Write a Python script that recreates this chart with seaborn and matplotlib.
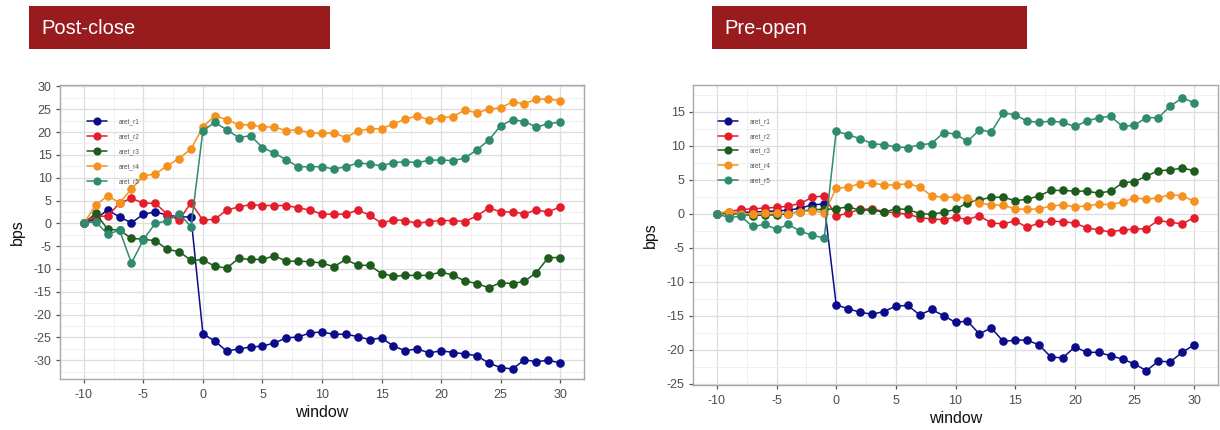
import numpy as np
import pandas as pd
import matplotlib
matplotlib.use("Agg")
import matplotlib.pyplot as plt
import seaborn as sns
from matplotlib.patches import Rectangle
from matplotlib.ticker import MultipleLocator

# ---------------- data ----------------
window = list(range(-10, 31))
series_names = ["aret_r1", "aret_r2", "aret_r3", "aret_r4", "aret_r5"]
panel_titles = ["Post-close", "Pre-open"]

post_r1 = [0, 1.0, 2.9, 1.4, 0.1, 2.0, 2.5, 1.8, 1.4, 1.4,
           -24.2, -25.8, -28.0, -27.5, -27.1, -26.9, -26.2, -25.1, -24.9, -24.0,
           -23.8, -24.3, -24.3, -24.8, -25.5, -25.1, -26.9, -27.9, -27.5, -28.4,
           -27.9, -28.3, -28.6, -29.0, -30.6, -31.6, -31.9, -29.9, -30.3, -30.0, -30.6]
post_r2 = [0, 1.5, 1.6, 4.4, 5.5, 4.4, 4.4, 2.0, 0.7, 4.5,
           0.7, 0.9, 2.9, 3.6, 4.1, 3.9, 3.9, 3.9, 3.4, 2.9,
           2.0, 2.0, 2.0, 2.9, 1.8, 0.0, 0.8, 0.6, 0.0, 0.4,
           0.6, 0.6, 0.4, 1.6, 3.4, 2.5, 2.5, 2.1, 2.9, 2.5, 3.6]
post_r3 = [0, 2.2, -1.3, -1.5, -3.3, -3.5, -3.8, -5.7, -6.2, -8.1,
           -8.0, -9.4, -9.8, -7.7, -7.9, -7.9, -7.1, -8.3, -8.3, -8.4,
           -8.7, -9.5, -7.9, -9.2, -9.2, -11.0, -11.6, -11.4, -11.4, -11.4,
           -10.6, -11.4, -12.6, -13.2, -14.1, -13.0, -13.2, -12.7, -10.8, -7.5, -7.5]
post_r4 = [0, 4.0, 6.0, 4.5, 7.5, 10.4, 10.8, 12.6, 14.2, 16.3,
           21.1, 23.6, 22.7, 21.6, 21.6, 21.1, 21.1, 20.3, 20.5, 19.8,
           19.7, 19.8, 18.8, 20.2, 20.7, 20.7, 21.8, 22.8, 23.6, 22.6,
           23.1, 23.4, 24.8, 24.2, 25.0, 25.3, 26.6, 26.2, 27.2, 27.2, 26.9]
post_r5 = [0, 0.4, -2.4, -1.5, -8.7, -3.6, 0.0, 0.5, 2.1, -0.7,
           20.3, 22.1, 20.5, 18.8, 19.2, 16.6, 15.4, 13.9, 12.4, 12.4,
           12.4, 11.9, 12.4, 13.2, 13.0, 12.6, 13.3, 13.5, 13.3, 13.8,
           13.9, 13.7, 14.3, 16.1, 18.2, 21.4, 22.7, 22.3, 21.1, 21.8, 22.2]

pre_r1 = [0, 0.1, 0.2, 0.2, 0.3, 0.4, 0.5, 0.8, 1.3, 1.4,
          -13.4, -14.0, -14.5, -14.8, -14.4, -13.6, -13.5, -14.9, -14.1, -15.0,
          -16.0, -15.8, -17.7, -16.8, -18.8, -18.6, -18.6, -19.3, -21.1, -21.2,
          -19.6, -20.4, -20.4, -20.9, -21.4, -22.1, -23.1, -21.7, -21.8, -20.4, -19.3]
pre_r2 = [0, 0.3, 0.6, 0.7, 0.8, 0.9, 1.1, 1.5, 2.4, 2.6,
          -0.4, 0.1, 0.6, 0.7, 0.3, 0.1, -0.1, -0.6, -0.8, -0.9,
          -0.5, -0.9, -0.3, -1.4, -1.5, -1.1, -2.0, -1.4, -1.1, -1.2,
          -1.4, -2.1, -2.4, -2.7, -2.4, -2.3, -2.2, -1.0, -1.3, -1.5, -0.6]
pre_r3 = [0, 0.0, -0.1, -0.3, -0.2, -0.2, 0.0, 0.3, 0.6, 0.6,
          0.7, 1.0, 0.5, 0.5, 0.2, 0.7, 0.6, 0.0, -0.1, 0.2,
          0.6, 1.6, 2.0, 2.4, 2.4, 1.9, 2.1, 2.6, 3.4, 3.4,
          3.3, 3.3, 3.0, 3.3, 4.5, 4.7, 5.5, 6.3, 6.4, 6.7, 6.3]
pre_r4 = [0, 0.3, 0.0, 0.0, 0.1, 0.1, 0.0, 0.3, 0.4, 0.1,
          3.7, 3.9, 4.4, 4.5, 4.2, 4.2, 4.4, 3.9, 2.6, 2.4,
          2.4, 2.3, 1.5, 1.3, 1.2, 0.7, 0.6, 0.7, 1.1, 1.3,
          1.0, 1.1, 1.4, 1.3, 1.7, 2.3, 2.1, 2.3, 2.8, 2.6, 1.8]
pre_r5 = [0, -0.6, -0.4, -1.9, -1.6, -2.3, -1.6, -2.6, -3.2, -3.6,
          12.1, 11.6, 11.0, 10.3, 10.1, 9.8, 9.7, 10.1, 10.3, 11.9,
          11.7, 10.6, 12.3, 12.0, 14.8, 14.5, 13.6, 13.4, 13.6, 13.4,
          12.8, 13.6, 14.1, 14.3, 12.8, 13.0, 14.1, 14.1, 15.8, 17.0, 16.3]

colors = ["#0c0c8a", "#e31d2b", "#1d5c1d", "#f5921f", "#2f8a6f"]

def long_df(cols):
    frames = []
    for name, vals in zip(series_names, cols):
        frames.append(pd.DataFrame({"window": window, "bps": vals, "series": name}))
    return pd.concat(frames, ignore_index=True)

post_df = long_df([post_r1, post_r2, post_r3, post_r4, post_r5])
pre_df = long_df([pre_r1, pre_r2, pre_r3, pre_r4, pre_r5])

# ---------------- figure ----------------
sns.set_theme(style="white")
plt.rcParams["font.family"] = ["Liberation Sans", "DejaVu Sans"]
plt.rcParams["axes.unicode_minus"] = False

W, H = 1220, 430
fig = plt.figure(figsize=(W / 100, H / 100), dpi=100)
fig.patch.set_facecolor("white")

def px_axes(x0, y0, x1, y1):
    return fig.add_axes([x0 / W, 1 - y1 / H, (x1 - x0) / W, (y1 - y0) / H])

ax_l = px_axes(60, 85, 584, 379)
ax_r = px_axes(693, 85, 1218, 385)

panels = [
    (ax_l, post_df, (-34.1, 30.3), (87, 118.5)),
    (ax_r, pre_df, (-25.2, 18.9), (718, 118.0)),
]

for ax, df, ylim, (lx, ly) in panels:
    sns.lineplot(data=df, x="window", y="bps", hue="series", palette=colors,
                 marker="o", markersize=6.2, markeredgewidth=0, linewidth=1.1,
                 ax=ax, zorder=3)
    ax.set_xlim(-12, 32)
    ax.set_ylim(*ylim)
    ax.xaxis.set_major_locator(MultipleLocator(5))
    ax.xaxis.set_minor_locator(MultipleLocator(2.5))
    ax.yaxis.set_major_locator(MultipleLocator(5))
    ax.yaxis.set_minor_locator(MultipleLocator(2.5))
    ax.grid(which="major", color="#dedede", linewidth=0.9, zorder=0)
    ax.grid(which="minor", color="#eeeeee", linewidth=0.6, zorder=0)
    ax.set_axisbelow(True)
    for sp in ax.spines.values():
        sp.set_color("#a8a8a8")
        sp.set_linewidth(1.0)
    ax.tick_params(which="major", direction="out", length=3, width=0.9,
                   color="#555555", labelsize=9, labelcolor="#4d4d4d", pad=3,
                   bottom=True, left=True)
    ax.tick_params(axis="x", which="major", pad=4)
    ax.tick_params(which="minor", length=0)
    ax.set_xlabel("window", fontsize=11.5, color="#111111", labelpad=3)
    ax.set_ylabel("bps", fontsize=11.5, color="#111111", labelpad=6)

    handles, labels = ax.get_legend_handles_labels()
    bb = ax.get_position()
    ax_w = bb.width * W
    ax_h = bb.height * H
    x0 = bb.x0 * W
    y1 = (1 - bb.y1) * H
    ax.legend(handles, labels, loc="upper left",
              bbox_to_anchor=((lx - x0) / ax_w, 1 - (ly - y1) / ax_h),
              frameon=False, fontsize=4.7, handlelength=3.0, handletextpad=1.8,
              labelspacing=1.2, borderpad=0, borderaxespad=0,
              labelcolor="#555555", markerscale=0.95)

# title banners
for (bx0, bx1, tx), title in zip([(29, 330, 41), (712, 1027, 724)], panel_titles):
    fig.patches.append(Rectangle((bx0 / W, 1 - 49 / H), (bx1 - bx0) / W, 43 / H,
                                 transform=fig.transFigure, facecolor="#981c1e",
                                 edgecolor="none", zorder=0))
    fig.text(tx / W, 1 - 28 / H, title, color="white", fontsize=14.5,
             ha="left", va="center")

fig.savefig("out.png", dpi=100, facecolor="white")
